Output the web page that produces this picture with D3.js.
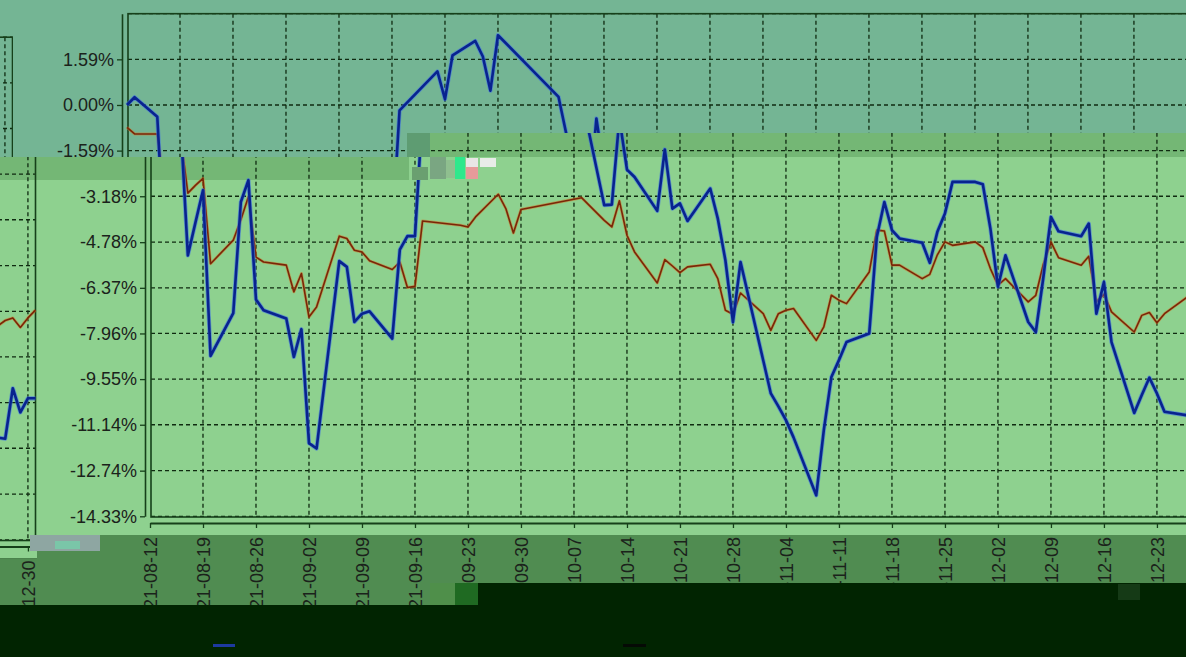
<!DOCTYPE html>
<html><head><meta charset="utf-8">
<script src="https://cdn.jsdelivr.net/npm/d3@7"></script>
<style>body{margin:0;background:#012401;} svg{display:block}</style>
</head><body><svg id="c" width="1186" height="657"></svg>
<script>
// ---------- data ----------
const dates = [
 "2021-08-12","2021-08-13","2021-08-16","2021-08-17","2021-08-18","2021-08-19","2021-08-20","2021-08-23","2021-08-24","2021-08-25","2021-08-26","2021-08-27","2021-08-30","2021-08-31",
 "2021-09-01","2021-09-02","2021-09-03","2021-09-06","2021-09-07","2021-09-08","2021-09-09","2021-09-10","2021-09-13","2021-09-14","2021-09-15","2021-09-16","2021-09-17","2021-09-22","2021-09-23","2021-09-24","2021-09-27","2021-09-28","2021-09-29","2021-09-30",
 "2021-10-08","2021-10-11","2021-10-12","2021-10-13","2021-10-14","2021-10-15","2021-10-18","2021-10-19","2021-10-20","2021-10-21","2021-10-22","2021-10-25","2021-10-26","2021-10-27","2021-10-28","2021-10-29",
 "2021-11-01","2021-11-02","2021-11-03","2021-11-04","2021-11-05","2021-11-08","2021-11-09","2021-11-10","2021-11-11","2021-11-12","2021-11-15","2021-11-16","2021-11-17","2021-11-18","2021-11-19","2021-11-22","2021-11-23","2021-11-24","2021-11-25","2021-11-26","2021-11-29","2021-11-30",
 "2021-12-01","2021-12-02","2021-12-03","2021-12-06","2021-12-07","2021-12-08","2021-12-09","2021-12-10","2021-12-13","2021-12-14","2021-12-15","2021-12-16","2021-12-17","2021-12-20","2021-12-21","2021-12-22","2021-12-23","2021-12-24","2021-12-27","2021-12-28","2021-12-29","2021-12-30","2021-12-31"
];
const blueValues = [
 0.00,0.27,-0.41,-5.24,-4.1,-2.97,-8.74,-7.25,-3.38,-2.62,-6.78,-7.15,-7.44,-8.78,
 -7.81,-11.78,-11.97,-5.44,-5.64,-7.56,-7.27,-7.19,-8.14,-5.04,-4.57,-4.57,-0.19,1.17,0.20,1.73,2.23,1.69,0.50,2.43,
 0.28,-3.49,-3.47,-0.47,-2.25,-2.51,-3.69,-1.55,-3.61,-3.43,-4.04,-2.91,-3.96,-5.41,-7.56,-5.47,
 -8.9,-10.05,-10.5,-10.98,-11.58,-13.6,-11.33,-9.48,-8.89,-8.26,-7.96,-4.6,-3.38,-4.36,-4.65,-4.80,-5.50,-4.42,-3.78,-2.68,-2.68,-2.76,
 -4.3,-6.33,-5.24,-7.56,-7.91,-6.0,-3.90,-4.40,-4.57,-4.13,-7.27,-6.17,-8.26,-10.73,-10.1,-9.5,-10.05,-10.69,-10.81,-9.05,-9.89,-9.40,-9.40
];
const brownValues = [
 -0.78,-1.01,-1.01,-3.07,-2.8,-2.56,-5.53,-4.71,-4.0,-3.2,-5.3,-5.47,-5.58,-6.51,
 -5.87,-7.39,-7.04,-4.57,-4.65,-5.06,-5.12,-5.43,-5.73,-5.47,-6.36,-6.32,-4.04,-4.19,-4.25,-3.90,-3.11,-3.61,-4.46,-3.64,
 -3.23,-4.02,-4.25,-3.34,-4.54,-5.12,-6.20,-5.39,-5.61,-5.84,-5.64,-5.55,-6.05,-7.15,-7.29,-6.55,
 -7.27,-7.85,-7.27,-7.15,-7.09,-8.2,-7.73,-6.63,-6.80,-6.92,-5.82,-4.36,-4.39,-5.58,-5.58,-6.05,-5.90,-5.22,-4.77,-4.89,-4.77,-4.97,
 -5.70,-6.28,-6.05,-6.86,-6.63,-5.55,-4.77,-5.32,-5.58,-5.27,-6.86,-6.59,-7.21,-7.91,-7.33,-7.23,-7.59,-7.27,-6.69,-6.6,-6.93,-6.6,-6.33
];
const yTickValues = [-14.33,-12.74,-11.14,-9.55,-7.96,-6.37,-4.78,-3.18,-1.59,0.00,1.59];
const yTickLabels = ["-14.33%","-12.74%","-11.14%","-9.55%","-7.96%","-6.37%","-4.78%","-3.18%","-1.59%","0.00%","1.59%"];
const xTickDates = ["2021-08-12","2021-08-19","2021-08-26","2021-09-02","2021-09-09","2021-09-16","2021-09-23","2021-09-30","2021-10-07","2021-10-14","2021-10-21","2021-10-28","2021-11-04","2021-11-11","2021-11-18","2021-11-25","2021-12-02","2021-12-09","2021-12-16","2021-12-23","2021-12-30"];
const xTickLabels = ["21-08-12","21-08-19","21-08-26","21-09-02","21-09-09","21-09-16","21-09-23","21-09-30","21-10-07","21-10-14","21-10-21","21-10-28","21-11-04","21-11-11","21-11-18","21-11-25","21-12-02","21-12-09","21-12-16","21-12-23","21-12-30"];
const yDomain = [-14.33, 3.18];
const xDomain = ["2021-08-12","2021-12-31"];

// ---------- scales ----------
const parse = d3.timeParse("%Y-%m-%d");
const x = d3.scaleTime().domain(xDomain.map(parse)).range([150, 1217.5]);
const y = d3.scaleLinear().domain(yDomain).range([516.3, 13.7]);
const blueData = dates.map((d,i)=>({d:parse(d), v:blueValues[i]}));
const brownData = dates.map((d,i)=>({d:parse(d), v:brownValues[i]}));
const line = d3.line().x(p=>x(p.d)).y(p=>y(p.v));
const labelOfX = new Map(xTickDates.map((d,i)=>[+parse(d), xTickLabels[i]]));
const labelOfY = new Map(yTickValues.map((v,i)=>[v, yTickLabels[i]]));

const svg = d3.select("#c");
const defs = svg.append("defs");
const FONT = "'Liberation Sans', Arial, sans-serif";
const GRID = "#0f2a10", FRAME = "#16401a";

// opt.yText: predicate on tick value for drawing y labels; opt.xText: predicate on tick x for labels
function scene(g, bg, band, opt) {
  g.append("rect").attr("x",-1300).attr("y",-100).attr("width",3800).attr("height",635).attr("fill",bg);
  g.append("rect").attr("x",-1300).attr("y",535).attr("width",3800).attr("height",200).attr("fill",band);
  const x0 = x.range()[0], x1 = x.range()[1];
  g.append("g").selectAll("line").data(yTickValues.concat([yDomain[1]])).join("line")
    .attr("x1",x0+1).attr("x2",x1).attr("y1",d=>y(d)).attr("y2",d=>y(d))
    .attr("stroke",GRID).attr("stroke-width",1.3).attr("stroke-dasharray","4,3");
  g.append("g").selectAll("line").data(xTickDates.slice(1)).join("line")
    .attr("x1",d=>x(parse(d))).attr("x2",d=>x(parse(d))).attr("y1",y(yDomain[1])).attr("y2",y(yDomain[0]))
    .attr("stroke",GRID).attr("stroke-width",1.3).attr("stroke-dasharray","4,3");
  g.append("rect").attr("x",x0+1).attr("y",y(yDomain[1])).attr("width",x1-x0-1).attr("height",y(yDomain[0])-y(yDomain[1])+0.7)
    .attr("fill","none").attr("stroke",FRAME).attr("stroke-width",1.6);
  // y axis
  const ya = g.append("g").attr("transform","translate(145,0)")
    .call(d3.axisLeft(y).tickValues(yTickValues).tickFormat(v=>labelOfY.get(v)).tickSize(5).tickSizeOuter(0).tickPadding(3));
  ya.select(".domain").attr("stroke",FRAME).attr("stroke-width",1.6);
  ya.selectAll(".tick line").attr("stroke",FRAME).attr("stroke-width",1.3);
  ya.selectAll(".tick text").filter(v=>!opt.yText(v)).remove();
  ya.selectAll("text").attr("font-family",FONT).attr("font-size",18).attr("fill","#1b221b");
  // x axis
  const xa = g.append("g").attr("transform","translate(0,523)")
    .call(d3.axisBottom(x).tickValues(xTickDates.map(parse)).tickFormat(d=>labelOfX.get(+d)).tickSize(5).tickSizeOuter(0));
  xa.select(".domain").attr("stroke",FRAME).attr("stroke-width",1.8);
  xa.selectAll(".tick line").attr("stroke",FRAME).attr("stroke-width",1.3);
  xa.selectAll(".tick text").filter(d=>!opt.xText(x(d))).remove();
  xa.selectAll("text").attr("font-family",FONT).attr("font-size",18).attr("fill","#1b221b")
    .attr("transform","rotate(-90)").attr("text-anchor","end").attr("x",-14).attr("y",0).attr("dy","0.36em");
  // series
  g.append("path").datum(brownData).attr("d",line).attr("fill","none").attr("stroke","#d07a2a").attr("stroke-opacity",0.55).attr("stroke-width",3).attr("stroke-linejoin","round");
  g.append("path").datum(brownData).attr("d",line).attr("fill","none").attr("stroke","#7a2608").attr("stroke-width",1.6).attr("stroke-linejoin","round");
  g.append("path").datum(blueData).attr("d",line).attr("fill","none").attr("stroke","#3c70e6").attr("stroke-opacity",0.6).attr("stroke-width",4.2).attr("stroke-linejoin","round");
  g.append("path").datum(blueData).attr("d",line).attr("fill","none").attr("stroke","#08238f").attr("stroke-width",2.6).attr("stroke-linejoin","round");
}

let cid = 0;
const none = ()=>false;
function layer(points, dx, dy, bg, band, opt) {
  const id = "clip" + (cid++);
  defs.append("clipPath").attr("id",id).append("polygon").attr("points",points.map(p=>p.join(",")).join(" "));
  const outer = svg.append("g").attr("clip-path","url(#"+id+")");
  scene(outer.append("g").attr("transform",`translate(${dx},${dy})`), bg, band, opt || {yText:none, xText:none});
}
const LIGHT="#8ed18f", TOP="#74b594", BAND="#74b775", LBAND="#508c51";
const WRAPX = -1182, WRAPY = 23.5, TOPX = -23;
// main chart and its wrapped right-hand strip
layer([[37,0],[1186,0],[1186,657],[37,657]], 0, 0, LIGHT, LBAND,
  {yText: v=>y(v) > 170, xText: px=>px < 1180});
layer([[0,0],[37,0],[37,657],[0,657]], WRAPX, WRAPY, LIGHT, LBAND,
  {yText: none, xText: px=>px+WRAPX > 0 && px+WRAPX < 37});
// medium band rows
layer([[409,133],[1186,133],[1186,157],[409,157]], 0, 0, BAND, LBAND);
layer([[37,157],[409,157],[409,180],[37,180]], 0, 0, BAND, LBAND);
layer([[0,157],[37,157],[37,180],[0,180]], WRAPX, WRAPY, BAND, LBAND);
// shifted top region
layer([[13,0],[1186,0],[1186,133],[409,133],[409,157],[13,157]], TOPX, 0, TOP, LBAND,
  {yText: v=>y(v) < 157, xText: none});
layer([[0,0],[13,0],[13,157],[0,157]], TOPX+WRAPX, WRAPY, TOP, LBAND);

// dark bottom area
const DARK="#012401";
svg.append("rect").attr("x",0).attr("y",605).attr("width",1186).attr("height",52).attr("fill",DARK);
svg.append("rect").attr("x",455).attr("y",583).attr("width",731).attr("height",23).attr("fill",DARK);
// block artefacts
const blocks = [
 [407,133,23,24,"#5e9c72"],[430,157,16,22,"#7aa682"],[446,160,12,18,"#8fbf8f"],[455,157,10,22,"#2fe88c"],
 [466,158,12,9,"#e9e6e6"],[466,167,12,12,"#e79a9a"],[480,158,16,9,"#e8ece8"],[412,167,16,13,"#6a9f70"],
 [30,535,70,16,"#8ea6a2"],[55,541,25,8,"#7ac6a8"],[430,583,25,22,"#4f8f4a"],[455,583,23,22,"#1f6a22"],[1118,584,22,16,"#153a16"]
];
svg.append("g").selectAll("rect").data(blocks).join("rect")
  .attr("x",b=>b[0]).attr("y",b=>b[1]).attr("width",b=>b[2]).attr("height",b=>b[3]).attr("fill",b=>b[4]);
// legend swatches (their labels are not readable in the dark band)
const legendSwatches = [[213,235,"#1d3aa0"],[623,646,"#050a05"]];
svg.append("g").selectAll("line").data(legendSwatches).join("line")
  .attr("x1",d=>d[0]).attr("x2",d=>d[1]).attr("y1",645.5).attr("y2",645.5).attr("stroke",d=>d[2]).attr("stroke-width",3);
</script></body></html>
